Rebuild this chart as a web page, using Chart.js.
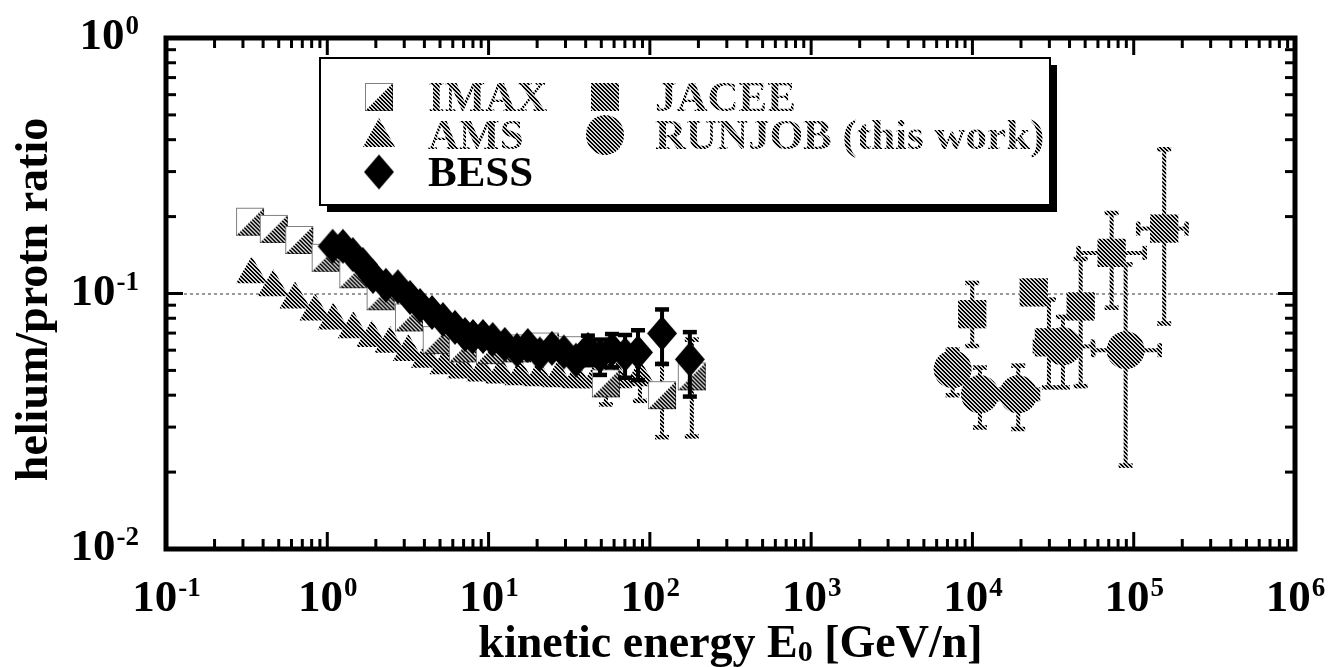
<!DOCTYPE html>
<html>
<head>
<meta charset="utf-8">
<title>helium/proton ratio</title>
<script src="https://cdn.jsdelivr.net/npm/chart.js@4.4.1/dist/chart.umd.min.js"></script>
<style>
  html, body { margin: 0; padding: 0; background: #fff; }
  #wrap { width: 1339px; height: 667px; }
</style>
</head>
<body>
<div id="wrap"><canvas id="chart" width="1339" height="667"></canvas></div>
<script>
// IMAX: kinetic energy [GeV/n], He/p ratio, error limits
const imaxE  = [0.332, 0.466, 0.670, 0.977, 1.45, 2.14, 3.21, 4.77, 6.94, 10.2, 15.0, 22.4, 32.9, 53.4, 119, 182];
const imaxR  = [0.191, 0.179, 0.162, 0.138, 0.119, 0.0976, 0.0806, 0.0657, 0.061, 0.060, 0.061, 0.062, 0.060, 0.0445, 0.040, 0.0474];
const imaxLo = [null, null, null, null, null, null, null, null, null, null, null, null, null, 0.0368, 0.0274, 0.0276];
const imaxHi = [null, null, null, null, null, null, null, null, null, null, null, null, null, 0.052, 0.053, 0.066];

// AMS
const amsE  = [0.340, 0.462, 0.631, 0.840, 1.09, 1.45, 1.89, 2.45, 3.18, 4.13, 5.37, 6.94, 9.10, 11.9, 15.7, 20.5, 26.9, 35.3, 46.3, 62.5, 86.8];
const amsR  = [0.119, 0.1058, 0.0948, 0.0851, 0.0784, 0.0724, 0.0669, 0.0636, 0.0590, 0.0556, 0.0524, 0.0504, 0.0491, 0.0482, 0.0474, 0.0470, 0.0466, 0.0462, 0.0462, 0.0462, 0.0470];
const amsLo = [null, null, null, null, null, null, null, null, null, null, null, null, null, null, null, null, null, null, null, null, 0.038];
const amsHi = [null, null, null, null, null, null, null, null, null, null, null, null, null, null, null, null, null, null, null, null, 0.056];

// BESS
const bessE  = [1.08, 1.25, 1.44, 1.66, 1.92, 2.31, 2.74, 3.26, 3.76, 4.46, 5.21, 6.19, 7.14, 8.00, 9.23, 10.6, 12.6, 15.0, 17.5, 20.8, 24.7, 29.3, 34.8, 41.3, 49.1, 58.2, 70.2, 84.4, 119, 177];
const bessR  = [0.153, 0.153, 0.142, 0.130, 0.1165, 0.1077, 0.1062, 0.0965, 0.0898, 0.0843, 0.0791, 0.0737, 0.0691, 0.0679, 0.0679, 0.0661, 0.0632, 0.060, 0.0626, 0.058, 0.0610, 0.059, 0.0548, 0.0604, 0.057, 0.0604, 0.0578, 0.0588, 0.0698, 0.0552];
const bessLo = [null, null, null, null, null, null, null, null, null, null, null, null, null, null, null, null, null, null, null, null, null, null, null, 0.0524, 0.048, 0.0514, 0.0468, 0.0458, 0.053, 0.0395];
const bessHi = [null, null, null, null, null, null, null, null, null, null, null, null, null, null, null, null, null, null, null, null, null, null, null, 0.0684, 0.066, 0.0694, 0.0688, 0.0718, 0.0866, 0.0706];

// JACEE
const jaceeE   = [9970, 24000, 29800, 46900, 72950, 154500];
const jaceeR   = [0.083, 0.101, 0.0644, 0.089, 0.1442, 0.1795];
const jaceeLo  = [0.0623, null, 0.0429, 0.0434, 0.088, 0.0763];
const jaceeHi  = [0.110, null, 0.0947, 0.1366, 0.2066, 0.367];
const jaceeELo = [null, null, null, null, 45500, 106600];
const jaceeEHi = [null, null, null, null, 117000, 212700];

// RUNJOB (this work)
const runjobE   = [7540, 11130, 19230, 36400, 89100];
const runjobR   = [0.0505, 0.0403, 0.0403, 0.0621, 0.060];
const runjobLo  = [0.040, 0.0299, 0.0295, 0.0429, 0.0212];
const runjobHi  = [0.0604, 0.0513, 0.0522, 0.081, 0.130];
const runjobELo = [null, null, 14500, 24400, 56100];
const runjobEHi = [null, null, 25500, 55800, 145000];

const xDecades = [-1, 0, 1, 2, 3, 4, 5, 6];
const yDecades = [-2, -1, 0];

const SERIF = '"Liberation Serif", "Times New Roman", serif';

// hatched grey fill like the original print
const tile = document.createElement('canvas');
tile.width = 4; tile.height = 4;
(function () {
    const g = tile.getContext('2d');
    g.fillStyle = '#d4d4d4';
    g.fillRect(0, 0, 4, 4);
    g.fillStyle = '#000';
    for (let y = 0; y < 4; y++) {
        g.fillRect(y, y, 1, 1);
        g.fillRect((y + 1) % 4, y, 1, 1);
    }
})();
const canvas = document.getElementById('chart');
const hatch = canvas.getContext('2d').createPattern(tile, 'repeat');

function imaxMarker(s) {
    const c = document.createElement('canvas');
    c.width = c.height = s + 2;
    const g = c.getContext('2d');
    g.fillStyle = '#fff';
    g.fillRect(1, 1, s, s);
    g.fillStyle = g.createPattern(tile, 'repeat');
    g.beginPath();
    g.moveTo(1, s + 1);
    g.lineTo(s + 1, 1);
    g.lineTo(s + 1, s + 1);
    g.closePath();
    g.fill();
    g.strokeStyle = '#000';
    g.lineWidth = 1;
    g.setLineDash([1, 1]);
    g.strokeRect(1.5, 1.5, s - 1, s - 1);
    return c;
}

function diamondMarker(w, h) {
    const c = document.createElement('canvas');
    c.width = w + 2; c.height = h + 2;
    const g = c.getContext('2d');
    g.fillStyle = '#000';
    g.beginPath();
    g.moveTo(1 + w / 2, 1);
    g.lineTo(1 + w, 1 + h / 2);
    g.lineTo(1 + w / 2, 1 + h);
    g.lineTo(1, 1 + h / 2);
    g.closePath();
    g.fill();
    return c;
}

const imaxImg = imaxMarker(28);
const bessImg = diamondMarker(30, 35);

function pts(xs, ys) {
    return xs.map((x, i) => ({ x: x, y: ys[i] }));
}

// error bars, drawn just under each dataset's markers
const errorBars = {
    id: 'errorBars',
    beforeDatasetDraw(chart, args) {
        const ds = chart.data.datasets[args.index];
        const e = ds.errors;
        if (!e) return;
        const xs = chart.scales.x, ys = chart.scales.y;
        const ctx = chart.ctx;
        const cap = 7;
        ctx.save();
        ctx.strokeStyle = e.black ? '#000' : hatch;
        ds.data.forEach((p, i) => {
            const px = xs.getPixelForValue(p.x);
            const py = ys.getPixelForValue(p.y);
            const seg = (x1, y1, x2, y2, w) => {
                ctx.lineWidth = w;
                ctx.beginPath();
                ctx.moveTo(x1, y1);
                ctx.lineTo(x2, y2);
                ctx.stroke();
            };
            if (e.lo && e.lo[i] != null) {
                const q = ys.getPixelForValue(e.lo[i]);
                seg(px, py, px, q, 4);
                seg(px - cap, q, px + cap, q, 4.5);
            }
            if (e.hi && e.hi[i] != null) {
                const q = ys.getPixelForValue(e.hi[i]);
                seg(px, py, px, q, 4);
                seg(px - cap, q, px + cap, q, 4.5);
            }
            if (e.xlo && e.xlo[i] != null) {
                const q = xs.getPixelForValue(e.xlo[i]);
                seg(px, py, q, py, 4);
                seg(q, py - cap, q, py + cap, 4.5);
            }
            if (e.xhi && e.xhi[i] != null) {
                const q = xs.getPixelForValue(e.xhi[i]);
                seg(px, py, q, py, 4);
                seg(q, py - cap, q, py + cap, 4.5);
            }
        });
        ctx.restore();
    }
};

function powLabel(ctx, exp, x, y, align) {
    const base = '10';
    const sup = exp < 0 ? '-' + Math.abs(exp) : String(exp);
    ctx.font = 'bold 45px ' + SERIF;
    const wb = ctx.measureText(base).width;
    ctx.font = 'bold 27px ' + SERIF;
    const ws = ctx.measureText(sup).width;
    let left = align === 'right' ? x - wb - ws : x - (wb + ws) / 2;
    ctx.textAlign = 'left';
    ctx.textBaseline = 'alphabetic';
    ctx.font = 'bold 45px ' + SERIF;
    ctx.fillText(base, left, y);
    ctx.font = 'bold 27px ' + SERIF;
    ctx.fillText(sup, left + wb + 1, y - 15);
}

const frame = {
    id: 'frame',
    beforeDatasetsDraw(chart) {
        const ctx = chart.ctx;
        const a = chart.chartArea;
        const y = chart.scales.y.getPixelForValue(0.1);
        ctx.save();
        ctx.strokeStyle = '#333';
        ctx.lineWidth = 1;
        ctx.setLineDash([3, 3]);
        ctx.beginPath();
        ctx.moveTo(a.left, y + 0.5);
        ctx.lineTo(a.right, y + 0.5);
        ctx.stroke();
        ctx.restore();
    },
    afterDraw(chart) {
        const ctx = chart.ctx;
        const a = chart.chartArea;
        const xs = chart.scales.x, ys = chart.scales.y;
        ctx.save();
        ctx.fillStyle = '#000';
        ctx.strokeStyle = '#000';

        // ticks on all four sides
        ctx.lineWidth = 3;
        const tick = (x1, y1, x2, y2) => {
            ctx.beginPath();
            ctx.moveTo(x1, y1);
            ctx.lineTo(x2, y2);
            ctx.stroke();
        };
        xDecades.forEach(d => {
            for (let k = 1; k <= 9; k++) {
                const v = k * Math.pow(10, d);
                if (v > 1e6 + 1) break;
                const px = xs.getPixelForValue(v);
                const len = k === 1 ? 17 : 10;
                tick(px, a.bottom, px, a.bottom - len);
                tick(px, a.top, px, a.top + len);
            }
        });
        yDecades.forEach(d => {
            for (let k = 1; k <= 9; k++) {
                const v = k * Math.pow(10, d);
                if (v > 1.0001) break;
                const py = ys.getPixelForValue(v);
                const len = k === 1 ? 17 : 10;
                tick(a.left, py, a.left + len, py);
                tick(a.right, py, a.right - len, py);
            }
        });

        ctx.lineWidth = 5;
        ctx.strokeRect(a.left, a.top, a.right - a.left, a.bottom - a.top);

        // tick labels
        xDecades.forEach(d => powLabel(ctx, d, xs.getPixelForValue(Math.pow(10, d)), 611, 'center'));
        yDecades.forEach(d => powLabel(ctx, d, 138, ys.getPixelForValue(Math.pow(10, d)) + 11, 'right'));

        // axis titles
        ctx.font = 'bold 46px ' + SERIF;
        const t1 = 'kinetic energy E', t2 = ' [GeV/n]';
        const w1 = ctx.measureText(t1).width, w2 = ctx.measureText(t2).width;
        ctx.font = 'bold 30px ' + SERIF;
        const ws = ctx.measureText('0').width;
        let x0 = (a.left + a.right) / 2 - (w1 + ws + w2) / 2;
        ctx.textAlign = 'left';
        ctx.font = 'bold 46px ' + SERIF;
        ctx.fillText(t1, x0, 657);
        ctx.fillText(t2, x0 + w1 + ws, 657);
        ctx.font = 'bold 30px ' + SERIF;
        ctx.fillText('0', x0 + w1, 661);

        ctx.save();
        ctx.translate(47, (a.top + a.bottom) / 2 + 6);
        ctx.rotate(-Math.PI / 2);
        ctx.textAlign = 'center';
        ctx.font = 'bold 46px ' + SERIF;
        ctx.fillText('helium/protn ratio', 0, 0);
        ctx.restore();

        // legend box with drop shadow
        const L = 320, T = 58, R = 1050, B = 205, sh = 7;
        ctx.fillStyle = '#000';
        ctx.fillRect(L + sh, T + sh, R - L, B - T);
        ctx.fillStyle = '#fff';
        ctx.fillRect(L, T, R - L, B - T);
        ctx.lineWidth = 2;
        ctx.strokeRect(L, T, R - L, B - T);

        const rows = [97, 135, 172];
        const c1 = 379, c2 = 605;
        ctx.drawImage(imaxImg, c1 - imaxImg.width / 2, rows[0] - imaxImg.height / 2);
        ctx.fillStyle = hatch;
        ctx.beginPath();
        ctx.moveTo(c1, rows[1] - 17);
        ctx.lineTo(c1 + 16, rows[1] + 12);
        ctx.lineTo(c1 - 16, rows[1] + 12);
        ctx.closePath();
        ctx.fill();
        ctx.drawImage(bessImg, c1 - bessImg.width / 2, rows[2] - bessImg.height / 2);
        ctx.fillRect(c2 - 14, rows[0] - 14, 28, 28);
        ctx.beginPath();
        ctx.ellipse(c2, rows[1], 19, 20, 0, 0, Math.PI * 2);
        ctx.fill();

        ctx.font = 'bold 43px ' + SERIF;
        ctx.textAlign = 'left';
        ctx.fillText('IMAX', 428, rows[0] + 14);
        ctx.fillText('AMS', 428, rows[1] + 14);
        ctx.fillText('JACEE', 655, rows[0] + 14);
        ctx.fillText('RUNJOB (this work)', 655, rows[1] + 14);
        ctx.fillStyle = '#000';
        ctx.fillText('BESS', 428, rows[2] + 14);
        ctx.restore();
    }
};

new Chart(canvas, {
    type: 'scatter',
    data: {
        datasets: [
            {
                label: 'BESS',
                data: pts(bessE, bessR),
                pointStyle: bessImg,
                order: 1,
                errors: { lo: bessLo, hi: bessHi, black: true }
            },
            {
                label: 'IMAX',
                data: pts(imaxE, imaxR),
                pointStyle: imaxImg,
                order: 2,
                errors: { lo: imaxLo, hi: imaxHi }
            },
            {
                label: 'AMS',
                data: pts(amsE, amsR),
                pointStyle: 'triangle',
                pointRadius: 18,
                pointBackgroundColor: hatch,
                pointBorderWidth: 0,
                order: 3,
                errors: { lo: amsLo, hi: amsHi }
            },
            {
                label: 'JACEE',
                data: pts(jaceeE, jaceeR),
                pointStyle: 'rect',
                pointRadius: 20,
                pointBackgroundColor: hatch,
                pointBorderWidth: 0,
                order: 4,
                errors: { lo: jaceeLo, hi: jaceeHi, xlo: jaceeELo, xhi: jaceeEHi }
            },
            {
                label: 'RUNJOB (this work)',
                data: pts(runjobE, runjobR),
                pointStyle: 'circle',
                pointRadius: 19,
                pointBackgroundColor: hatch,
                pointBorderWidth: 0,
                order: 5,
                errors: { lo: runjobLo, hi: runjobHi, xlo: runjobELo, xhi: runjobEHi }
            }
        ]
    },
    options: {
        responsive: false,
        animation: false,
        events: [],
        layout: { padding: { left: 166, top: 38, right: 44, bottom: 118 } },
        scales: {
            x: { type: 'logarithmic', min: 0.1, max: 1e6, display: false },
            y: { type: 'logarithmic', min: 0.01, max: 1, display: false }
        },
        plugins: {
            legend: { display: false },
            tooltip: { enabled: false }
        }
    },
    plugins: [errorBars, frame]
});
</script>
</body>
</html>
